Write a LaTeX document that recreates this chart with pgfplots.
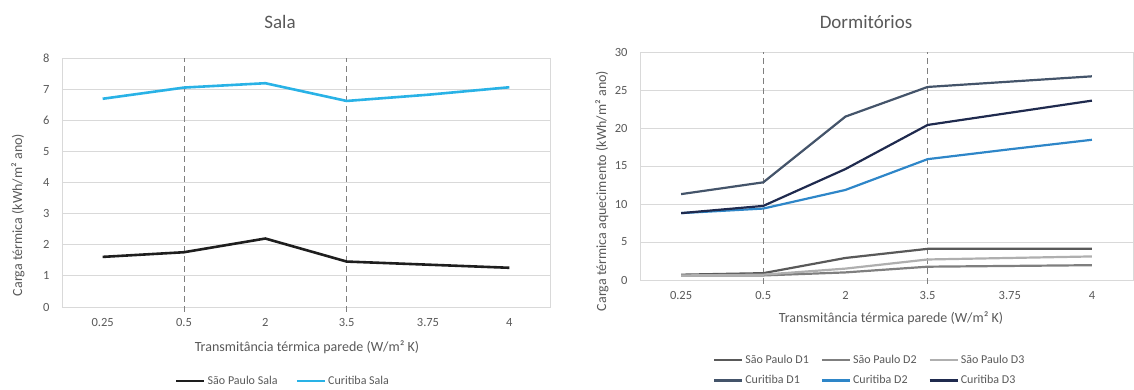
\documentclass[border=0pt]{standalone}
\usepackage{pgfplots}
\pgfplotsset{compat=1.18}
\usepackage{fontspec}
\setmainfont{Carlito}
\definecolor{txt}{RGB}{89,89,89}
\definecolor{gridc}{RGB}{217,217,217}
\definecolor{cSala}{RGB}{41,178,230}
\definecolor{spSala}{RGB}{30,30,30}
\definecolor{cD1}{RGB}{68,84,106}
\definecolor{cD2}{RGB}{46,134,200}
\definecolor{cD3}{RGB}{31,42,78}
\definecolor{spD1}{RGB}{89,89,89}
\definecolor{spD2}{RGB}{127,127,127}
\definecolor{spD3}{RGB}{175,175,175}
\definecolor{dashc}{RGB}{127,127,127}
\pgfplotsset{
  common/.style={
    scale only axis,
    xmin=-0.5, xmax=5.5, ymin=0,
    xtick={0,...,5}, xticklabels={0.25,0.5,2,3.5,3.75,4},
    ymajorgrids, grid style={gridc, line width=0.8pt},
    axis line style={gridc, line width=0.8pt},
    major tick length=0pt,
    tick label style={font=\fontsize{12.5}{14}\selectfont, text=txt},
    yticklabel style={xshift=-9pt},
    xticklabel style={yshift=-8pt},
    /pgf/number format/assume math mode=true,
    clip=false,
    legend style={draw=none, fill=none, font=\fontsize{12}{14}\selectfont, text=txt,
      /tikz/every even column/.append style={column sep=10pt}},
    legend cell align=left,
    legend image code/.code={\draw[#1] (0pt,0pt) -- (28pt,0pt);},
  },
  dashref/.style={dashc, line width=0.9pt, dash pattern=on 6pt off 4pt, forget plot},
}
\begin{document}
\begin{tikzpicture}
\useasboundingbox (0pt,0pt) rectangle (1134pt,389pt);
% Left: Sala
\begin{axis}[common, at={(62pt,82pt)}, anchor=south west, width=488pt, height=249pt,
  ymax=8, ytick={0,...,8},
  legend columns=2,
  legend style={at={(0.453,-0.297)}, anchor=center,
    /tikz/every even column/.append style={column sep=16pt}},
]
\addplot[dashref] coordinates {(1,-0.15) (1,8)};
\addplot[dashref] coordinates {(3,-0.15) (3,8)};
\addplot[spSala, line width=2.6pt] coordinates {(0,1.61) (1,1.76) (2,2.20) (3,1.46) (4,1.36) (5,1.26)};
\addlegendentry{São Paulo Sala}
\addplot[cSala, line width=2.6pt] coordinates {(0,6.69) (1,7.05) (2,7.19) (3,6.62) (4,6.82) (5,7.06)};
\addlegendentry{Curitiba Sala}
\end{axis}
% Right: Dormitorios
\begin{axis}[common, at={(640pt,109pt)}, anchor=south west, width=493pt, height=228pt,
  ymax=30, ytick={0,5,...,30},
  legend columns=3,
  legend style={at={(0.466,-0.395)}, anchor=center, row sep=7pt},
]
\addplot[dashref] coordinates {(1,-0.5) (1,30)};
\addplot[dashref] coordinates {(3,-0.5) (3,30)};
\addplot[spD1, line width=2.2pt] coordinates {(0,0.7) (1,0.9) (2,2.9) (3,4.1) (4,4.1) (5,4.1)};
\addlegendentry{São Paulo D1}
\addplot[spD2, line width=2.2pt] coordinates {(0,0.6) (1,0.6) (2,1.0) (3,1.75) (4,1.85) (5,1.95)};
\addlegendentry{São Paulo D2}
\addplot[spD3, line width=2.2pt] coordinates {(0,0.6) (1,0.7) (2,1.5) (3,2.7) (4,2.9) (5,3.1)};
\addlegendentry{São Paulo D3}
\addplot[cD1, line width=2.2pt] coordinates {(0,11.3) (1,12.85) (2,21.5) (3,25.4) (4,26.1) (5,26.8)};
\addlegendentry{Curitiba D1}
\addplot[cD2, line width=2.2pt] coordinates {(0,8.8) (1,9.4) (2,11.85) (3,15.9) (4,17.2) (5,18.45)};
\addlegendentry{Curitiba D2}
\addplot[cD3, line width=2.2pt] coordinates {(0,8.8) (1,9.75) (2,14.6) (3,20.4) (4,22.0) (5,23.6)};
\addlegendentry{Curitiba D3}
\end{axis}
% titles and labels
\node[text=txt, font=\fontsize{19}{22}\selectfont] at (280pt,367pt) {Sala};
\node[text=txt, font=\fontsize{19}{22}\selectfont] at (866pt,367pt) {Dormitórios};
\node[text=txt, font=\fontsize{14}{16}\selectfont] at (307pt,42pt) {Transmitância térmica parede (W/m² K)};
\node[text=txt, font=\fontsize{14}{16}\selectfont] at (891pt,71pt) {Transmitância térmica parede (W/m² K)};
\node[text=txt, font=\fontsize{14}{16}\selectfont, rotate=90] at (18pt,174pt) {Carga térmica (kWh/m² ano)};
\node[text=txt, font=\fontsize{14}{16}\selectfont, rotate=90] at (602pt,198pt) {Carga térmica aquecimento (kWh/m² ano)};
\end{tikzpicture}
\end{document}
